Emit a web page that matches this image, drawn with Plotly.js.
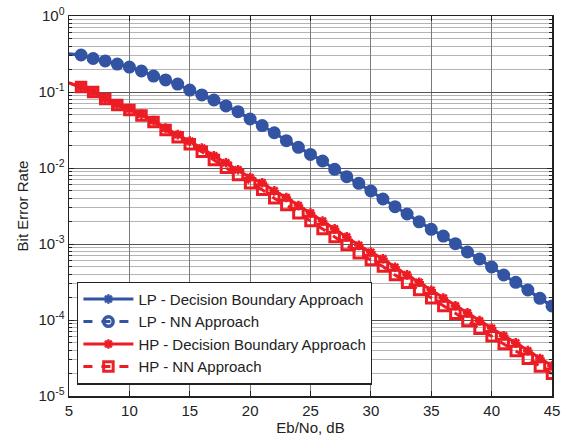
<!DOCTYPE html>
<html>
<head>
<meta charset="utf-8">
<script src="https://cdn.plot.ly/plotly-3.0.1.min.js"></script>
<style>
  html, body { margin: 0; padding: 0; background: #fff; }
  #chart { width: 563px; height: 441px; }
</style>
</head>
<body>
<div id="chart"></div>
<script>
// Eb/No (dB)
const ebno = [5,6,7,8,9,10,11,12,13,14,15,16,17,18,19,20,21,22,23,24,25,26,27,28,29,30,31,32,33,34,35,36,37,38,39,40,41,42,43,44,45];

// LP - Decision Boundary Approach
const lpDecision = [0.316,0.306,0.276,0.256,0.233,0.213,0.189,0.162,0.144,0.127,0.106,0.0914,0.0785,0.0655,0.0551,0.0441,0.0362,0.0291,0.0229,0.0187,0.0151,0.01236,0.00961,0.00768,0.00629,0.00498,0.00391,0.0031,0.00248,0.00196,0.00156,0.00127,0.00101,0.000785,0.000635,0.000498,0.000391,0.000313,0.000248,0.000193,0.000153];

// LP - NN Approach
const lpNN = [0.316,0.307,0.276,0.256,0.233,0.213,0.189,0.162,0.144,0.127,0.106,0.0914,0.0785,0.0655,0.0551,0.0441,0.0362,0.0291,0.0229,0.0187,0.0151,0.01236,0.00961,0.00768,0.00629,0.00498,0.00391,0.0031,0.00248,0.00196,0.00156,0.00127,0.00101,0.000785,0.000635,0.000498,0.000391,0.000313,0.000248,0.000193,0.000153];

// HP - Decision Boundary Approach
const hpDecision = [0.132,0.117,0.101,0.082,0.069,0.060,0.051,0.042,0.0335,0.0275,0.0226,0.0183,0.0145,0.0117,0.0095,0.0075,0.0064,0.0050,0.0041,0.0032,0.00255,0.00200,0.00158,0.00124,0.00096,0.00078,0.00064,0.000495,0.000393,0.000314,0.000246,0.000195,0.000154,0.000124,0.000098,0.000078,0.000062,0.000050,0.0000395,0.0000312,0.000025];

// HP - NN Approach
const hpNN = [0.132,0.116,0.1,0.0809,0.0674,0.058,0.0491,0.0403,0.0316,0.0253,0.0205,0.0164,0.0127,0.0101,0.00809,0.00629,0.00518,0.00399,0.00326,0.00254,0.00201,0.00158,0.00124,0.00097,0.000754,0.000615,0.000506,0.000391,0.00031,0.000248,0.000193,0.000153,0.000121,0.0000971,0.0000768,0.000061,0.0000483,0.0000391,0.0000309,0.0000245,0.0000196];

const seriesNames = ['LP - Decision Boundary Approach','LP - NN Approach','HP - Decision Boundary Approach','HP - NN Approach'];

const yTickVals = [1, 0.1, 0.01, 0.001, 0.0001, 0.00001];
const yTickText = ['10<sup>0</sup>','10<sup>-1</sup>','10<sup>-2</sup>','10<sup>-3</sup>','10<sup>-4</sup>','10<sup>-5</sup>'];
const xTickVals = [5,10,15,20,25,30,35,40,45];

const BLUE = '#3353a3';
const RED = '#ec1c24';

const minorVals = [];
for (let d = -5; d < 0; d++) for (let k = 2; k <= 9; k++) minorVals.push(k * Math.pow(10, d));

const markerOpacity = ebno.map((v, i) => i === 0 ? 0 : 1);

const traces = [
  { x: ebno, y: lpDecision, name: seriesNames[0], mode: 'lines+markers',
    line: { color: BLUE, width: 3 },
    marker: { symbol: 'asterisk-open', size: 8, color: BLUE, opacity: markerOpacity, line: { color: BLUE, width: 2.5 } } },
  { x: ebno, y: lpNN, name: seriesNames[1], mode: 'lines+markers',
    line: { color: BLUE, width: 3, dash: 'dash' },
    marker: { symbol: 'circle-open', size: 9.5, color: BLUE, opacity: markerOpacity, line: { color: BLUE, width: 3.5 } } },
  { x: ebno, y: hpDecision, name: seriesNames[2], mode: 'lines+markers',
    line: { color: RED, width: 3 },
    marker: { symbol: 'asterisk-open', size: 8, color: RED, opacity: markerOpacity, line: { color: RED, width: 2.5 } } },
  { x: ebno, y: hpNN, name: seriesNames[3], mode: 'lines+markers',
    line: { color: RED, width: 3, dash: 'dash' },
    marker: { symbol: 'square-open', size: 9.5, color: RED, opacity: markerOpacity, line: { color: RED, width: 3 } } }
];

const FONT = 'Liberation Sans, Arial, sans-serif';

const layout = {
  width: 563, height: 441,
  margin: { l: 69, r: 11, t: 16, b: 45 },
  paper_bgcolor: '#fff', plot_bgcolor: '#fff',
  font: { family: FONT, size: 15, color: '#222' },
  showlegend: true,
  legend: {
    x: 0.017, y: 0.03, xanchor: 'left', yanchor: 'bottom',
    bgcolor: '#fff', bordercolor: '#222', borderwidth: 1.2,
    font: { family: FONT, size: 15, color: '#222' },
    tracegroupgap: 0, itemwidth: 50
  },
  xaxis: {
    range: [5, 45], tickmode: 'array', tickvals: xTickVals,
    ticks: 'inside', ticklen: 5, tickcolor: '#222',
    showline: true, linecolor: '#222', linewidth: 1.5, mirror: 'ticks',
    showgrid: true, gridcolor: '#7a7a7a', gridwidth: 1,
    zeroline: false,
    tickfont: { family: FONT, size: 15, color: '#222' },
    title: { text: 'Eb/No, dB', font: { family: FONT, size: 15, color: '#222' }, standoff: 5 }
  },
  yaxis: {
    type: 'log', range: [-5, 0], tickmode: 'array', tickvals: yTickVals, ticktext: yTickText,
    ticks: 'inside', ticklen: 5, tickcolor: '#222',
    showline: true, linecolor: '#222', linewidth: 1.5, mirror: 'ticks',
    showgrid: true, gridcolor: '#555', gridwidth: 1,
    zeroline: false,
    tickfont: { family: FONT, size: 15, color: '#222' },
    minor: { tickmode: 'array', tickvals: minorVals, ticks: 'inside', ticklen: 3, tickcolor: '#222', showgrid: true, gridcolor: '#b4b4b4', gridwidth: 1 },
    title: { text: 'Bit Error Rate', font: { family: FONT, size: 15, color: '#222' }, standoff: 6 }
  }
};

Plotly.newPlot('chart', traces, layout, { staticPlot: true, displayModeBar: false });
</script>
</body>
</html>
